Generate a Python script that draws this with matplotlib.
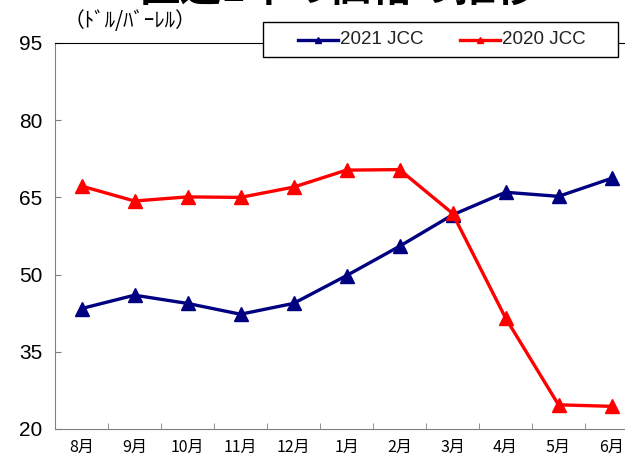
import matplotlib
matplotlib.use('Agg')
import matplotlib.pyplot as plt
from matplotlib.lines import Line2D
from matplotlib.patches import Rectangle

# data
months = ['8月', '9月', '10月', '11月', '12月', '1月', '2月', '3月', '4月', '5月', '6月']
jcc_2021 = [43.4, 46.0, 44.4, 42.3, 44.4, 49.8, 55.5, 61.6, 66.0, 65.2, 68.7]
jcc_2020 = [67.2, 64.3, 65.1, 65.0, 67.0, 70.3, 70.4, 61.9, 41.6, 24.7, 24.4]
yticks = [20, 35, 50, 65, 80, 95]
series_names = ['2021 JCC', '2020 JCC']

NAVY = '#000080'
RED = '#ff0000'
GRAY = '#808080'
JP = ['Noto Sans CJK JP', 'DejaVu Sans']
NUM = ['Liberation Sans', 'DejaVu Sans']

W, H = 625, 458
fig = plt.figure(figsize=(W / 100, H / 100), dpi=100)

def fx(px):
    return px / W

def fy(py):
    return 1 - py / H

# plot area runs past the right edge, as in the reference
ax = fig.add_axes([fx(55), fy(429), 583 / W, 386 / H])

x = list(range(len(months)))
ax.plot(x, jcc_2021, color=NAVY, lw=2.4, marker='^', ms=10, clip_on=False)
ax.plot(x, jcc_2020, color=RED, lw=2.4, marker='^', ms=10, clip_on=False)

ax.set_xlim(-0.5, len(months) - 0.5)
ax.set_ylim(20, 95)

ax.set_yticks(yticks)
ax.set_yticklabels([str(v) for v in yticks], family=NUM, fontsize=15)
ax.tick_params(axis='y', direction='in', length=4.5, color=GRAY, pad=9)

ax.set_xticks(x)
ax.set_xticklabels(months, family=JP, fontsize=11.5)
ax.set_xticks([i + 0.5 for i in x[:-1]], minor=True)
ax.tick_params(axis='x', which='major', length=0, pad=7)
ax.tick_params(axis='x', which='minor', direction='in', length=4.5, color=GRAY)

for side in ['left', 'bottom']:
    ax.spines[side].set_color(GRAY)
ax.spines['top'].set_color('black')
ax.spines['right'].set_visible(False)

# legend box drawn by hand to match the wide, padded frame
fig.patches.append(Rectangle((fx(263), fy(57)), 355 / W, 35 / H,
                             transform=fig.transFigure, facecolor='white',
                             edgecolor='black', lw=1.0, zorder=5))
for name, color, x0 in zip(series_names, [NAVY, RED], [298, 460]):
    fig.add_artist(Line2D([fx(x0), fx(x0 + 40)], [fy(39.5), fy(39.5)],
                          transform=fig.transFigure, color=color, lw=2.4, zorder=6))
    fig.add_artist(Line2D([fx(x0 + 20)], [fy(39.5)], transform=fig.transFigure,
                          color=color, marker='^', ms=5, zorder=6))
    fig.text(fx(x0 + 42), fy(40), name, family=NUM, fontsize=13.5,
             va='center', zorder=6, color='#222222')

fig.text(fx(64), fy(21), '（ﾄﾞﾙ/ﾊﾞｰﾚﾙ）', family=JP, fontsize=15, va='center')

# title clipped at the top edge of the image
fig.text(fx(338), fy(1), '直近1年の価格の推移', family=JP, fontsize=30,
         fontweight='bold', ha='center', va='baseline')

fig.savefig('out.png', dpi=100)
